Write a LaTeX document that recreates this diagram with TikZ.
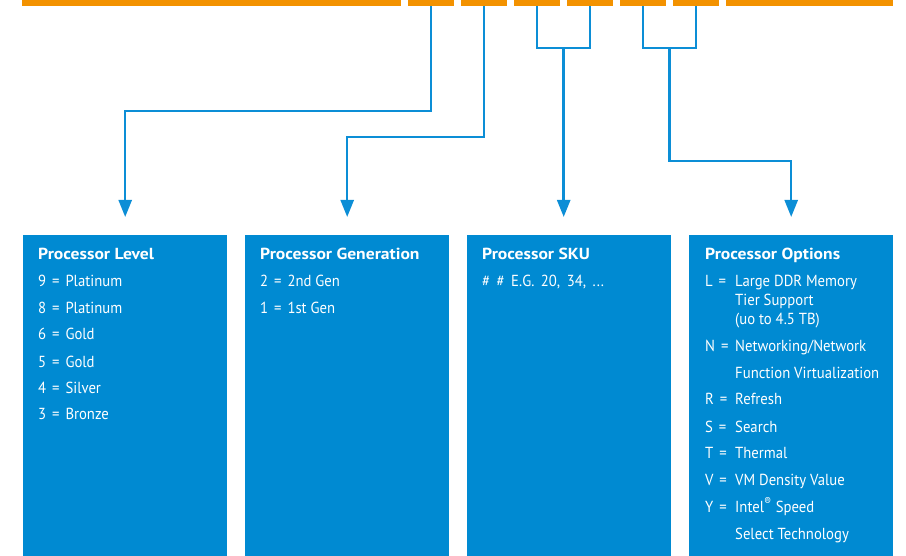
\documentclass[tikz,border=0pt]{standalone}
\usepackage{fontspec}
\setmainfont{PT Sans}
\newfontfamily\bodyfont[FakeStretch=0.92]{PT Sans}
\newfontfamily\headfont[FakeStretch=1.1]{PT Sans Bold}
\usetikzlibrary{arrows.meta,calc}
\definecolor{barorange}{HTML}{F39200}
\definecolor{boxblue}{HTML}{008AD2}
\definecolor{lineblue}{HTML}{0C8ED6}
% equals sign with a little extra room on both sides
\newcommand{\iseq}{\kern2pt=\kern2pt}
\begin{document}
\begin{tikzpicture}[x=1pt,y=-1pt,
  seg/.style={fill=barorange, inner sep=0pt, minimum height=6pt, anchor=north west},
  infobox/.style={fill=boxblue, inner sep=0pt, minimum width=204pt, minimum height=321pt, anchor=north west},
  head/.style={text=white, inner sep=0pt, anchor=base west, font=\headfont\fontsize{16}{19}\selectfont},
  entry/.style={text=white, inner sep=0pt, anchor=base west, font=\bodyfont\fontsize{16}{19}\selectfont},
  wire/.style={draw=lineblue, line width=2.5pt},
  link/.style={wire, -{Triangle[width=13pt,length=17pt]}}]
\useasboundingbox (0,0) rectangle (906,556);

% orange code bar
\node[seg, minimum width=379pt] (s1) at (22,0) {};
\node[seg, minimum width=46pt] (s2) at (408,0) {};
\node[seg, minimum width=46pt] (s3) at (461,0) {};
\node[seg, minimum width=46pt] (s4) at (514,0) {};
\node[seg, minimum width=46pt] (s5) at (567,0) {};
\node[seg, minimum width=46pt] (s6) at (620,0) {};
\node[seg, minimum width=46pt] (s7) at (673,0) {};
\node[seg, minimum width=167pt] (s8) at (726,0) {};

% blue panels
\node[infobox] (b1) at (23,235) {};
\node[infobox] (b2) at (245,235) {};
\node[infobox] (b3) at (467,235) {};
\node[infobox] (b4) at (689,235) {};

% arrow targets and routing levels
\coordinate (a1) at ($(b1.north)+(0,-18)$);
\coordinate (a2) at ($(b2.north)+(0,-18)$);
\coordinate (a4) at ($(b4.north)+(0,-18)$);
\coordinate (r1) at (0,111);
\coordinate (r2) at (0,137);
\coordinate (r4) at (0,161);
\coordinate (u) at (0,48);
\coordinate (m3) at ($(s4.south |- u)!0.5!(s5.south |- u)$);
\coordinate (m4) at ($(s6.south |- u)!0.5!(s7.south |- u)$);
\coordinate (a3) at (m3 |- a1);

% connectors
\draw[link] (s2.south) -- (s2.south |- r1) -| (a1);
\draw[link] (s3.south) -- (s3.south |- r2) -| (a2);
\draw[wire] (s4.south) -- (s4.south |- u) -- (s5.south |- u) -- (s5.south);
\draw[link] (m3) -- (a3);
\draw[wire] (s6.south) -- (s6.south |- u) -- (s7.south |- u) -- (s7.south);
\draw[link] (m4) -- (m4 |- r4) -| (a4);

% panel 1
\node[head] (h1) at (38,260) {Processor Level};
\node[entry] (p1a) at (38,287) {9 \iseq{} Platinum};
\node[entry] (p1b) at (38,314) {8 \iseq{} Platinum};
\node[entry] (p1c) at (38,340) {6 \iseq{} Gold};
\node[entry] (p1d) at (38,367) {5 \iseq{} Gold};
\node[entry] (p1e) at (38,393) {4 \iseq{} Silver};
\node[entry] (p1f) at (38,420) {3 \iseq{} Bronze};

% panel 2
\node[head] (h2) at (260,260) {Processor Generation};
\node[entry] (p2a) at (260,287) {2 \iseq{} 2nd Gen};
\node[entry] (p2b) at (260,314) {1 \iseq{} 1st Gen};

% panel 3
\node[head] (h3) at (482,260) {Processor SKU};
\node[entry] (p3a) at (482,287) {\spaceskip=6.5pt\relax \# \# E.G. 20, 34, .\kern1pt.\kern1pt.};

% panel 4
\node[head] (h4) at (705,260) {Processor Options};
\node[entry] (k4a) at (705,287) {L \iseq};
\node[entry] (v4a) at (735,287) {Large DDR Memory};
\node[entry] (v4b) at (735,306) {Tier Support};
\node[entry] (v4c) at (735,325) {(uo to 4.5 TB)};
\node[entry] (k4d) at (705,352) {N \iseq};
\node[entry] (v4d) at (735,352) {Networking/Network};
\node[entry] (v4e) at (735,378) {Function Virtualization};
\node[entry] (k4f) at (705,405) {R \iseq};
\node[entry] (v4f) at (735,405) {Refresh};
\node[entry] (k4g) at (705,432) {S \iseq};
\node[entry] (v4g) at (735,432) {Search};
\node[entry] (k4h) at (705,458) {T \iseq};
\node[entry] (v4h) at (735,458) {Thermal};
\node[entry] (k4i) at (705,485) {V \iseq};
\node[entry] (v4i) at (735,485) {VM Density Value};
\node[entry] (k4j) at (705,512) {Y \iseq};
\node[entry] (v4j) at (735,512) {Intel\textsuperscript{®} Speed};
\node[entry] (v4k) at (735,539) {Select Technology};
\end{tikzpicture}
\end{document}
